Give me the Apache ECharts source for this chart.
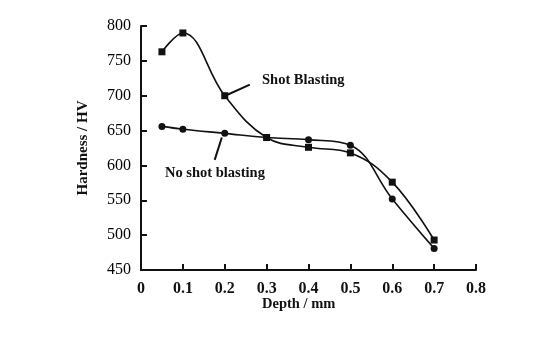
<!DOCTYPE html>
<html>
<head>
<meta charset="utf-8">
<script src="https://cdn.jsdelivr.net/npm/echarts@6/dist/echarts.min.js"></script>
<style>html,body{margin:0;padding:0;background:#fff;}#c{width:554px;height:363px;}</style>
</head>
<body>
<div id="c"></div>
<script>
const depth = [0.05, 0.1, 0.2, 0.3, 0.4, 0.5, 0.6, 0.7];
const shotBlasting = [763, 790, 700, 640, 626, 618, 576, 493];
const noShotBlasting = [656, 652, 646, 640, 637, 629, 552, 481];
const xTicks = [0, 0.1, 0.2, 0.3, 0.4, 0.5, 0.6, 0.7, 0.8];
const yTicks = [450, 500, 550, 600, 650, 700, 750, 800];

const font = '"Liberation Serif", "Times New Roman", serif';
const chart = echarts.init(document.getElementById('c'), null, {renderer: 'canvas'});
const pair = (xs, ys) => xs.map((x, i) => [x, ys[i]]);

chart.setOption({
  animation: false,
  grid: {left: 141, right: 78, top: 26, bottom: 93},
  xAxis: {
    type: 'value', min: 0, max: 0.8, interval: 0.1,
    axisLine: {show: true, lineStyle: {color: '#111', width: 2}},
    axisTick: {show: true, inside: true, length: 6, lineStyle: {color: '#111', width: 2}},
    axisLabel: {fontFamily: font, fontSize: 16, fontWeight: 'bold', color: '#111', margin: 11,
      formatter: v => xTicks.includes(Math.round(v*10)/10) ? String(Math.round(v*10)/10) : ''},
    splitLine: {show: false}
  },
  yAxis: {
    type: 'value', min: 450, max: 800, interval: 50,
    name: 'Hardness / HV', nameLocation: 'middle', nameGap: 50, nameRotate: 90,
    nameTextStyle: {fontFamily: font, fontSize: 15, fontWeight: 'bold', color: '#111'},
    axisLine: {show: true, lineStyle: {color: '#111', width: 2}},
    axisTick: {show: true, inside: true, length: 6, lineStyle: {color: '#111', width: 2}},
    axisLabel: {fontFamily: font, fontSize: 16, color: '#000', margin: 10,
      formatter: v => yTicks.includes(v) ? String(v) : ''},
    splitLine: {show: false}
  },
  series: [
    {
      name: 'Shot Blasting', type: 'line', smooth: 0.4,
      data: pair(depth, shotBlasting),
      symbol: 'rect', symbolSize: 7,
      itemStyle: {color: '#111'},
      lineStyle: {color: '#111', width: 1.6},
      markLine: {
        silent: true, symbol: 'none', label: {show: false},
        lineStyle: {color: '#111', width: 2, type: 'solid'},
        data: [[{coord: [0.26, 716]}, {coord: [0.205, 701]}]]
      }
    },
    {
      name: 'No shot blasting', type: 'line', smooth: 0.4,
      data: pair(depth, noShotBlasting),
      symbol: 'circle', symbolSize: 7,
      itemStyle: {color: '#111'},
      lineStyle: {color: '#111', width: 1.6},
      markLine: {
        silent: true, symbol: 'none', label: {show: false},
        lineStyle: {color: '#111', width: 2, type: 'solid'},
        data: [[{coord: [0.193, 640]}, {coord: [0.176, 608]}]]
      }
    }
  ],
  graphic: [
    {type: 'text', left: 262, top: 73, style: {text: 'Shot Blasting', font: 'bold 14.5px ' + font, fill: '#111'}},
    {type: 'text', left: 165, top: 166, style: {text: 'No shot blasting', font: 'bold 14.5px ' + font, fill: '#111'}},
    {type: 'text', left: 262, top: 297, style: {text: 'Depth / mm', font: 'bold 14.5px ' + font, fill: '#111'}}
  ]
});
</script>
</body>
</html>
